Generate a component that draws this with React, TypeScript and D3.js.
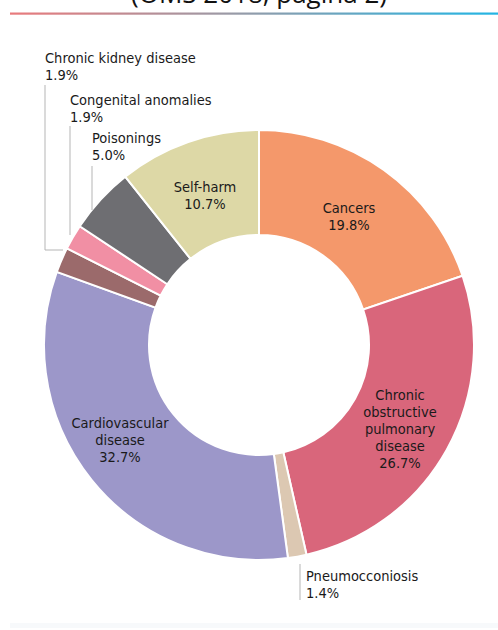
import React, { useEffect, useRef } from 'react';
import * as d3 from 'd3';

const causes = [
  'Cancers',
  'Chronic obstructive pulmonary disease',
  'Pneumocconiosis',
  'Cardiovascular disease',
  'Chronic kidney disease',
  'Congenital anomalies',
  'Poisonings',
  'Self-harm',
];
const shares = [19.8, 26.7, 1.4, 32.7, 1.9, 1.9, 5.0, 10.7];
const colors = ['#f4986b', '#d9667b', '#dcc8b2', '#9c97c9', '#9b6a6b', '#f18fa4', '#6e6e72', '#ddd8a6'];

// label lines for inner labels (drawn inside the ring)
const innerLabels: Record<string, string[]> = {
  Cancers: ['Cancers'],
  'Chronic obstructive pulmonary disease': ['Chronic', 'obstructive', 'pulmonary', 'disease'],
  'Cardiovascular disease': ['Cardiovascular', 'disease'],
  'Self-harm': ['Self-harm'],
};

const W = 498;
const H = 630;

export default function App() {
  const svgRef = useRef<SVGSVGElement>(null);

  useEffect(() => {
    if (!svgRef.current) return;
    const svg = d3.select(svgRef.current);
    svg.selectAll('*').remove();

    const font = "'Liberation Sans Narrow', 'DejaVu Sans Condensed', sans-serif";

    // title, cut off at the top like in the source
    svg.append('text')
      .attr('x', 259)
      .attr('y', 3)
      .attr('text-anchor', 'middle')
      .attr('font-family', "'Open Sans', sans-serif")
      .attr('font-size', 26)
      .attr('fill', '#111')
      .text('(OMS 2018, pagina 2)');

    const grad = svg.append('defs').append('linearGradient').attr('id', 'rule');
    grad.append('stop').attr('offset', '0%').attr('stop-color', '#e97a7c');
    grad.append('stop').attr('offset', '45%').attr('stop-color', '#9a9aa6');
    grad.append('stop').attr('offset', '100%').attr('stop-color', '#22b5e4');
    svg.append('rect')
      .attr('x', 10).attr('y', 12.5).attr('width', 488).attr('height', 2.2)
      .attr('fill', 'url(#rule)');

    svg.append('rect')
      .attr('x', 10).attr('y', 623).attr('width', 488).attr('height', 5)
      .attr('fill', '#f7f9fb');

    const cx = 259;
    const cy = 345;
    const outer = 215;
    const inner = 110;

    const data = causes.map((c, i) => ({ cause: c, value: shares[i], color: colors[i] }));
    const pie = d3.pie<typeof data[number]>().value(d => d.value).sort(null);
    const arc = d3.arc<d3.PieArcDatum<typeof data[number]>>().innerRadius(inner).outerRadius(outer);
    const arcs = pie(data);

    const g = svg.append('g').attr('transform', `translate(${cx},${cy})`);
    g.selectAll('path')
      .data(arcs)
      .enter()
      .append('path')
      .attr('d', arc)
      .attr('fill', d => d.data.color)
      .attr('stroke', '#fff')
      .attr('stroke-width', 2);

    // inner labels
    const labelPos: Record<string, [number, number]> = {
      Cancers: [90, -132],
      'Chronic obstructive pulmonary disease': [141, 55],
      'Cardiovascular disease': [-139, 83],
      'Self-harm': [-54, -153],
    };
    arcs.forEach(a => {
      const lines = innerLabels[a.data.cause];
      if (!lines) return;
      const [x, y] = labelPos[a.data.cause];
      const t = g.append('text')
        .attr('text-anchor', 'middle')
        .attr('font-family', font)
        .attr('font-size', 14.5)
        .attr('fill', '#1a1a1a');
      [...lines, `${a.data.value.toFixed(1)}%`].forEach((l, i) => {
        t.append('tspan').attr('x', x).attr('y', y + i * 17).text(l);
      });
    });

    // outside labels with leader lines
    const outside = [
      { cause: 'Chronic kidney disease', x: 45, y: 63, line: [[45, 85], [45, 250], [63, 250]] },
      { cause: 'Congenital anomalies', x: 70, y: 105, line: [[70, 126], [70, 235]] },
      { cause: 'Poisonings', x: 92, y: 143, line: [[92, 166], [92, 210]] },
      { cause: 'Pneumocconiosis', x: 306, y: 581, line: [[300, 564], [300, 600]] },
    ];
    outside.forEach(o => {
      const v = shares[causes.indexOf(o.cause)];
      svg.append('path')
        .attr('d', d3.line()(o.line as [number, number][]))
        .attr('fill', 'none')
        .attr('stroke', '#b5b5b5')
        .attr('stroke-width', 1);
      const t = svg.append('text')
        .attr('font-family', font)
        .attr('font-size', 14.5)
        .attr('fill', '#1a1a1a');
      t.append('tspan').attr('x', o.x).attr('y', o.y).text(o.cause);
      t.append('tspan').attr('x', o.x).attr('y', o.y + 17).text(`${v.toFixed(1)}%`);
    });
  }, []);

  return (
    <svg
      ref={svgRef}
      width={W}
      height={H}
      style={{ position: 'absolute', left: 0, top: 0, background: '#fff' }}
    />
  );
}
